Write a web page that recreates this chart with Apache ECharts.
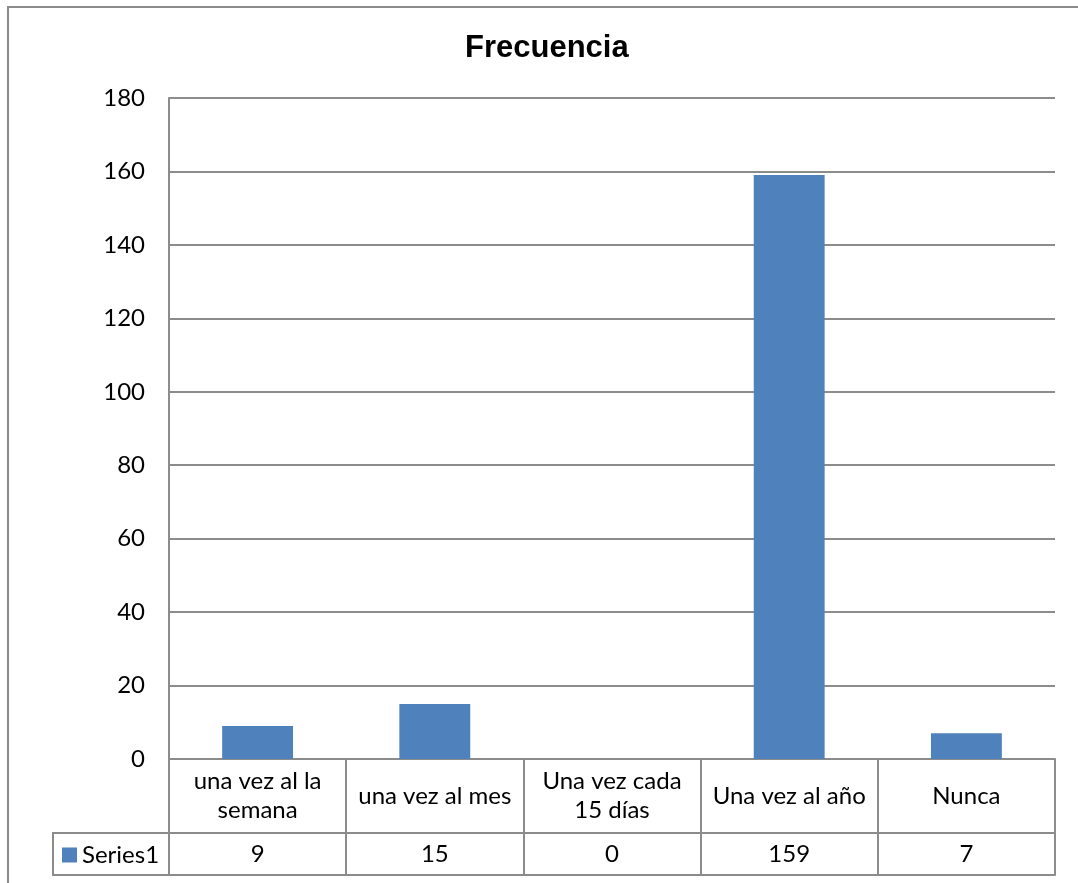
<!DOCTYPE html>
<html>
<head>
<meta charset="utf-8">
<script src="https://cdn.jsdelivr.net/npm/echarts@6/dist/echarts.min.js"></script>
<style>
html,body{margin:0;padding:0;background:#fff;}
#chart{width:1078px;height:883px;}
</style>
</head>
<body>
<div id="chart"></div>
<script>
var title = 'Frecuencia';
var categories = ['una vez al la\nsemana', 'una vez al mes', 'Una vez cada\n15 días', 'Una vez al año', 'Nunca'];
var seriesName = 'Series1';
var values = [9, 15, 0, 159, 7];
var yMin = 0, yMax = 180, yStep = 20;

var grey = '#8c8c8c';
var font = 'Lato';
var fs = 24;
var chart = echarts.init(document.getElementById('chart'));
chart.setOption({
  animation: false,
  backgroundColor: '#fff',
  title: {
    text: title, left: 460, top: 28,
    textStyle: {fontFamily: 'Liberation Sans', fontWeight: 'bold', fontSize: 31, color: '#000'}
  },
  legend: {
    data: [seriesName], left: 62, top: 843, itemWidth: 15, itemHeight: 15, itemGap: 0,
    icon: 'rect', padding: 0,
    textStyle: {fontFamily: font, fontSize: fs, color: '#000', padding: [0, 0, 0, 0]}
  },
  grid: {left: 169, top: 98, width: 886, height: 661, containLabel: false},
  xAxis: [
    {
      type: 'category', data: categories, position: 'bottom',
      axisLine: {show: true, lineStyle: {color: grey, width: 2}},
      axisTick: {show: true, length: 74, lineStyle: {color: grey, width: 2}},
      axisLabel: {show: true, margin: 37, verticalAlign: 'middle', lineHeight: 29,
        fontFamily: font, fontSize: fs, color: '#000', interval: 0}
    },
    {
      type: 'category', data: values.map(String), position: 'bottom', offset: 74,
      axisLine: {show: true, lineStyle: {color: grey, width: 2}},
      axisTick: {show: true, length: 42, lineStyle: {color: grey, width: 2}},
      axisLabel: {show: true, margin: 21, verticalAlign: 'middle',
        fontFamily: font, fontSize: fs, color: '#000', interval: 0}
    },
    {
      type: 'category', data: categories, position: 'bottom', offset: 116,
      axisLine: {show: true, lineStyle: {color: grey, width: 2}},
      axisTick: {show: false}, axisLabel: {show: false}
    }
  ],
  yAxis: {
    type: 'value', min: yMin, max: yMax, interval: yStep,
    axisLine: {show: true, lineStyle: {color: grey, width: 2}},
    axisTick: {show: false},
    axisLabel: {margin: 24, fontFamily: font, fontSize: fs, color: '#000'},
    splitLine: {show: true, lineStyle: {color: grey, width: 2}}
  },
  series: [{
    name: seriesName, type: 'bar', data: values, barWidth: '40%', xAxisIndex: 0,
    itemStyle: {color: '#4f81bd'}
  }],
  graphic: [
    {type: 'rect', shape: {x: 8, y: 7, width: 1200, height: 1000}, style: {fill: 'none', stroke: grey, lineWidth: 2}, silent: true},
    {type: 'rect', shape: {x: 53, y: 833, width: 116, height: 42}, style: {fill: 'none', stroke: grey, lineWidth: 2}, silent: true}
  ]
});
</script>
</body>
</html>
